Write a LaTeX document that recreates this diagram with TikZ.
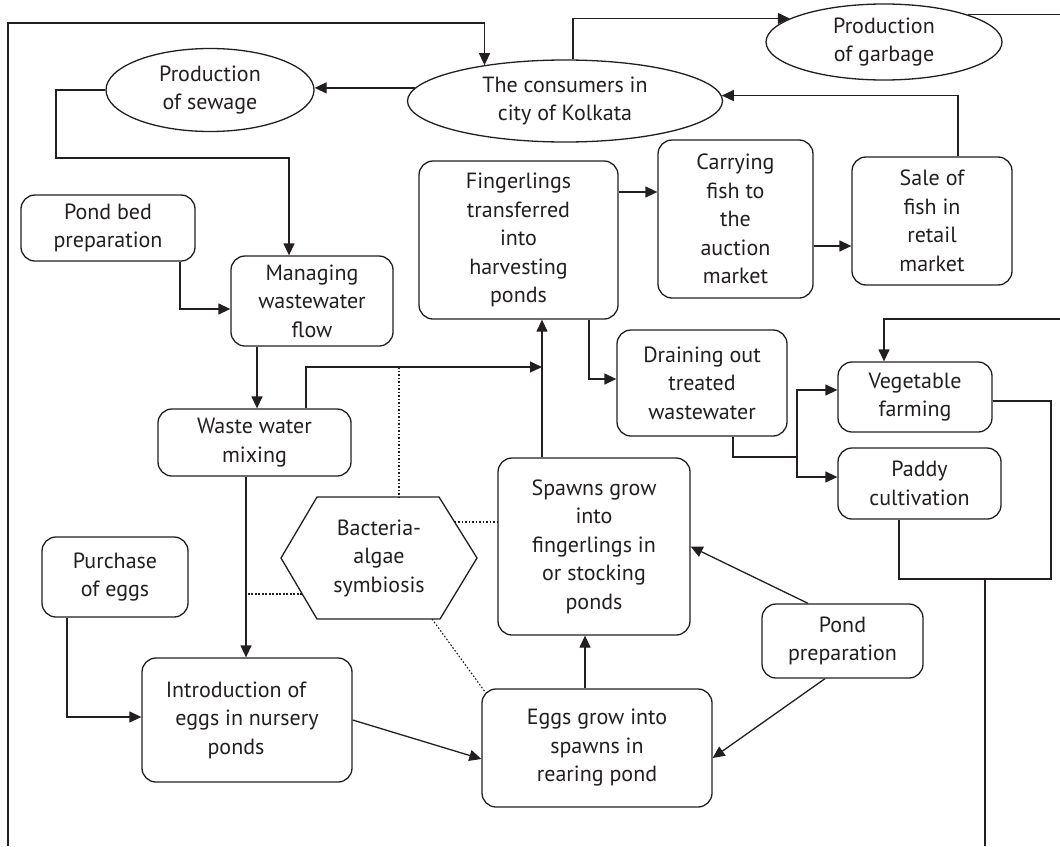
\documentclass[tikz,border=0pt]{standalone}
\usepackage{fontspec}
\setmainfont{PT Sans}
\usetikzlibrary{arrows.meta,shapes.geometric}
\definecolor{ink}{RGB}{35,31,32}
\newcommand\dfont{\fontsize{22}{28.5}\selectfont}
\tikzset{
  ln/.style={draw=ink, line width=1.3pt},
  box/.style={ln, rounded corners=14pt, align=center, inner sep=0pt, font=\dfont, text=ink},
  oval/.style={ln, ellipse, align=center, inner sep=0pt, font=\dfont, text=ink},
  arr/.style={ln, -{Triangle[length=12pt,width=11pt]}},
  dotln/.style={draw=ink, line width=1.1pt, dash pattern=on 1.6pt off 1.9pt}
}
\begin{document}
\begin{tikzpicture}[x=1pt,y=-1pt]
\useasboundingbox (0,0) rectangle (1060,846);
\fill[white] (0,0) rectangle (1060,846);

% nodes
\node[oval, minimum width=315pt, minimum height=82pt] (consumers) at (565,101) {The consumers in\\city of Kolkata};
\node[oval, minimum width=208pt, minimum height=83pt] (sewage) at (210,90) {Production\\of sewage};
\node[oval, minimum width=236pt, minimum height=76pt] (garbage) at (884,42) {Production\\of garbage};
\node[box, minimum width=174pt, minimum height=66pt] (pondbed) at (108,228) {Pond bed\\preparation};
\node[box, minimum width=162pt, minimum height=90pt] (managing) at (312,301) {Managing\\wastewater\\flow};
\node[box, minimum width=193pt, minimum height=67pt] (wwm) at (254.5,442.5) {Waste water\\mixing};
\node[box, minimum width=199pt, minimum height=158pt] (fing) at (518.5,240) {Fingerlings\\transferred\\into\\harvesting\\ponds};
\node[box, minimum width=155pt, minimum height=158pt] (carry) at (735.5,219) {Carrying\\fish to\\the\\auction\\market};
\node[box, minimum width=160pt, minimum height=128pt] (sale) at (932,221) {Sale of\\fish in\\retail\\market};
\node[box, minimum width=170pt, minimum height=106pt] (drain) at (702,383) {Draining out\\treated\\wastewater};
\node[box, minimum width=154pt, minimum height=70pt] (veg) at (915,397) {Vegetable\\farming};
\node[box, minimum width=163pt, minimum height=71pt] (paddy) at (919.5,483.5) {Paddy\\cultivation};
\node[box, minimum width=192pt, minimum height=177pt] (spawns) at (594,546.5) {Spawns grow\\into\\fingerlings in\\or stocking\\ponds};
\node[box, minimum width=230pt, minimum height=118pt] (eggs) at (597,748) {Eggs grow into\\spawns in\\rearing pond};
\node[box, minimum width=161pt, minimum height=74pt] (pondprep) at (842.5,641) {Pond\\preparation};
\node[box, minimum width=146pt, minimum height=80pt] (purchase) at (115,577) {Purchase\\of eggs};
\node[box, minimum width=210pt, minimum height=124pt] (intro) at (247,720) {Introduction of\hspace*{22pt}\\eggs in nursery\hspace*{22pt}\\ponds\hspace*{22pt}};

% hexagon
\coordinate (hL) at (281,558);
\coordinate (hTL) at (317,497);
\coordinate (hTR) at (439,497);
\coordinate (hR) at (477,558);
\coordinate (hBR) at (440,619);
\coordinate (hBL) at (317,619);
\draw[ln, line join=miter] (hL) -- (hTL) -- (hTR) -- (hR) -- (hBR) -- (hBL) -- cycle;
\node[align=center, inner sep=0pt, font=\dfont, text=ink] (hex) at (379,558) {Bacteria-\\algae\\symbiosis};

% free ends
\coordinate (leftbot) at (8,846);
\coordinate (rtop) at (1060,15);
\coordinate (rmid) at (1060,319);
\coordinate (botr) at (985,846);
\coordinate (jr) at (985,579);
\coordinate (split) at (797,457);
\coordinate (sp2fi) at ([xshift=-52pt]spawns.north);
\coordinate (dtop) at (399,367);
\coordinate (dbot) at (399,497);

% connectors
\draw[arr] (leftbot) |- (consumers.156 |- 0,23) -- (consumers.156);
\draw[arr] (consumers.175) -- (consumers.175 -| sewage.east);
\draw[arr] (sewage.west) -| (56,158) -| ([xshift=-23pt]managing.north);
\draw[arr] ([xshift=8pt]consumers.north) |- (garbage.166);
\draw[ln] (garbage.18) -- (garbage.18 -| rtop);
\draw[arr] ([xshift=26pt]sale.north) |- (consumers.2);
\draw[arr] ([yshift=48pt]fing.east) -- ([yshift=48pt]fing.east -| carry.west);
\draw[arr] ([yshift=-27pt]carry.east) -- ([yshift=-27pt]carry.east -| sale.west);
\draw[arr] ([xshift=70.5pt]fing.south) |- ([yshift=4pt]drain.west);
\draw[arr] (sp2fi) -- (sp2fi |- fing.south);
\draw[arr] ([xshift=51.5pt]wwm.north) |- (sp2fi |- 0,367);
\draw[arr] ([xshift=-55pt]managing.south) -- ([xshift=-55pt]managing.south |- wwm.north);
\draw[arr] ([xshift=72pt]pondbed.south) |- ([yshift=-8pt]managing.west);
\draw[arr] ([xshift=-8.5pt]wwm.south) -- ([xshift=-8.5pt]wwm.south |- intro.north);
\draw[arr] ([xshift=-48pt]purchase.south) |- ([yshift=3pt]intro.west);
\draw[arr] (intro.east) -- ([yshift=-11pt]eggs.west);
\draw[arr] ([xshift=-12pt]eggs.north) -- ([xshift=-12pt]eggs.north |- spawns.south);
\draw[arr] ([xshift=-34.5pt]pondprep.north) -- (spawns.east);
\draw[arr] ([xshift=-17.5pt]pondprep.south) -- ([yshift=-10pt]eggs.east);
\draw[ln] ([xshift=31pt]drain.south) |- (split);
\draw[arr] (split) |- ([yshift=7pt]veg.west);
\draw[arr] (split) |- ([yshift=6.5pt]paddy.west);
\draw[arr] (rmid) -| ([xshift=-31pt]veg.north);
\draw[ln] ([yshift=-4pt]veg.east) -| (jr -| 1051,0) -| ([xshift=-20.5pt]paddy.south);
\draw[ln] (jr) -- (botr);

% dotted links
\draw[dotln] (dtop) -- (dbot);
\draw[dotln] (454.6,522) -- ([yshift=24.5pt]spawns.west);
\draw[dotln] (302,594) -- (246,594);
\draw[dotln] (432,619) -- ([shift={(4pt,-4pt)}]eggs.north west);
\end{tikzpicture}
\end{document}
